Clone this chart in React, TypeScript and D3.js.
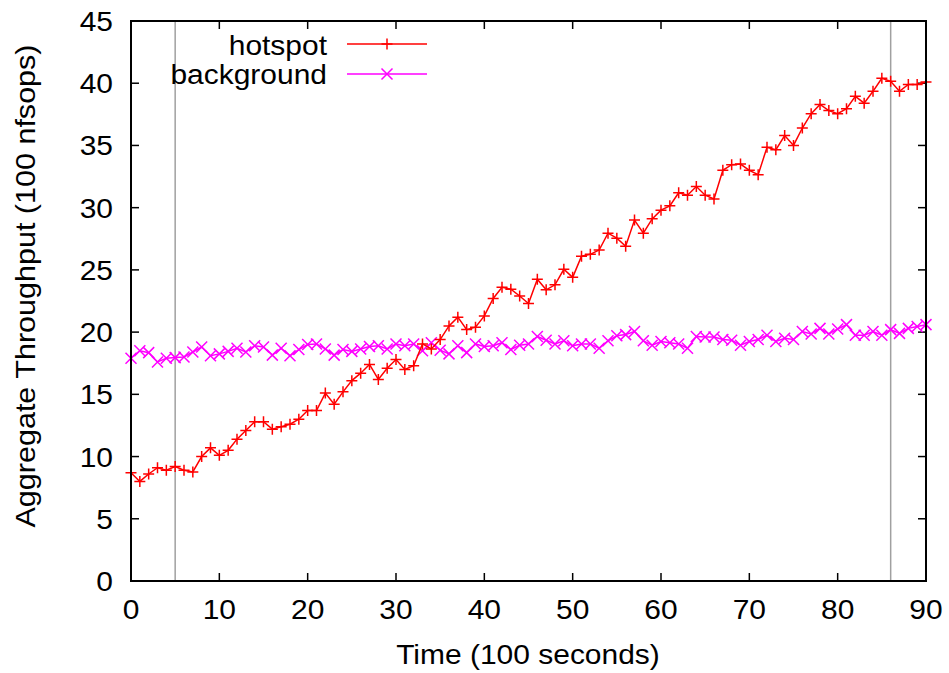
import React from "react";
import * as d3 from "d3";

const hotspot = [
  8.7, 8.0, 8.6, 9.1, 8.9, 9.2, 8.9, 8.76, 10.0, 10.7,
  10.1, 10.5, 11.4, 12.1, 12.8, 12.8, 12.2, 12.4, 12.6, 13.0,
  13.7, 13.7, 15.1, 14.2, 15.2, 16.1, 16.7, 17.4, 16.2, 17.1,
  17.8, 17.0, 17.3, 19.05, 18.65, 19.4, 20.5, 21.2, 20.2, 20.4,
  21.3, 22.7, 23.6, 23.45, 22.9, 22.3, 24.25, 23.4, 23.8, 25.05,
  24.4, 26.1, 26.25, 26.6, 27.95, 27.55, 26.9, 29.0, 27.95, 29.1,
  29.8, 30.15, 31.2, 31.0, 31.7, 31.0, 30.7, 33.0, 33.45, 33.5,
  33.0, 32.65, 34.85, 34.65, 35.8, 35.0, 36.4, 37.55, 38.3, 37.8,
  37.55, 37.95, 38.95, 38.4, 39.35, 40.4, 40.15, 39.35, 39.9, 39.9,
  40.1,
];

const background = [
  17.9, 18.5, 18.35, 17.6, 17.9, 17.95, 18.0, 18.4, 18.8, 18.1,
  18.25, 18.45, 18.7, 18.4, 18.9, 18.8, 18.15, 18.7, 18.1, 18.6,
  19.0, 19.05, 18.65, 18.15, 18.6, 18.45, 18.65, 18.85, 18.9, 18.65,
  19.05, 18.9, 19.05, 18.5, 19.15, 18.55, 18.25, 18.9, 18.35, 19.05,
  18.85, 18.9, 19.15, 18.6, 18.95, 19.05, 19.65, 19.35, 19.05, 19.3,
  18.9, 19.05, 19.05, 18.7, 19.3, 19.7, 19.8, 20.05, 19.3, 18.95,
  19.25, 19.15, 19.05, 18.7, 19.65, 19.6, 19.6, 19.4, 19.35, 18.95,
  19.25, 19.4, 19.75, 19.25, 19.5, 19.4, 20.05, 19.85, 20.3, 19.85,
  20.25, 20.6, 19.75, 19.75, 20.05, 19.75, 20.2, 19.9, 20.3, 20.45,
  20.6,
];

const xTicks = [0, 10, 20, 30, 40, 50, 60, 70, 80, 90];
const yTicks = [0, 5, 10, 15, 20, 25, 30, 35, 40, 45];
const markerLines = [5, 86];

const W = 949;
const H = 673;
const L = 131;
const R = 926;
const T = 21;
const B = 581;

export default function App() {
  const x = d3.scaleLinear().domain([0, 90]).range([L, R]);
  const y = d3.scaleLinear().domain([0, 45]).range([B, T]);
  const line = d3
    .line<number>()
    .x((_, i) => x(i))
    .y((d) => y(d));
  const font = "'Liberation Sans', Arial, sans-serif";
  const red = "#ff0000";
  const mag = "#ff00ff";
  const tl = 8;
  const fs = 27.5;
  const sx = 1.09;
  const txt = (tx: number, ty: number, s: string, anchor: string, k?: string) => (
    <text key={k} transform={`translate(${tx},${ty}) scale(${sx},1)`} fontSize={fs} textAnchor={anchor} fill="#000">
      {s}
    </text>
  );
  const plus = (cx: number, cy: number, k: string) => (
    <path key={k} d={`M${cx - 5.5},${cy}H${cx + 5.5}M${cx},${cy - 5.5}V${cy + 5.5}`} stroke={red} strokeWidth={1.5} />
  );
  const cross = (cx: number, cy: number, k: string) => (
    <path key={k} d={`M${cx - 5.5},${cy - 5.5}L${cx + 5.5},${cy + 5.5}M${cx - 5.5},${cy + 5.5}L${cx + 5.5},${cy - 5.5}`} stroke={mag} strokeWidth={1.5} />
  );
  return (
    <svg width={W} height={H} style={{ position: "absolute", left: 0, top: 0, background: "#fff" }} fontFamily={font}>
      <rect x={0} y={0} width={W} height={H} fill="#fff" />
      {markerLines.map((v) => (
        <line key={v} x1={x(v)} x2={x(v)} y1={T} y2={B} stroke="#a0a0a0" strokeWidth={1.5} />
      ))}
      {xTicks.map((t) => (
        <g key={"xt" + t}>
          <line x1={x(t)} x2={x(t)} y1={B} y2={B - tl} stroke="#000" strokeWidth={1.5} />
          <line x1={x(t)} x2={x(t)} y1={T} y2={T + tl} stroke="#000" strokeWidth={1.5} />
          {txt(x(t), 619, String(t), "middle")}
        </g>
      ))}
      {yTicks.map((t) => (
        <g key={"yt" + t}>
          <line x1={L} x2={L + tl} y1={y(t)} y2={y(t)} stroke="#000" strokeWidth={1.5} />
          <line x1={R} x2={R - tl} y1={y(t)} y2={y(t)} stroke="#000" strokeWidth={1.5} />
          {txt(113, y(t) + 10, String(t), "end")}
        </g>
      ))}
      <path d={line(background) || ""} fill="none" stroke={mag} strokeWidth={1.5} />
      {background.map((v, i) => cross(x(i), y(v), "b" + i))}
      <path d={line(hotspot) || ""} fill="none" stroke={red} strokeWidth={1.5} />
      {hotspot.map((v, i) => plus(x(i), y(v), "h" + i))}
      <rect x={L} y={T} width={R - L} height={B - T} fill="none" stroke="#000" strokeWidth={2} />
      {txt(327, 55, "hotspot", "end")}
      <line x1={347} x2={427} y1={44} y2={44} stroke={red} strokeWidth={1.5} />
      {plus(387, 44, "lp")}
      {txt(327, 84, "background", "end")}
      <line x1={347} x2={427} y1={74} y2={74} stroke={mag} strokeWidth={1.5} />
      {cross(387, 74, "lc")}
      {txt(528, 664, "Time (100 seconds)", "middle")}
      <text transform={`translate(35,286) rotate(-90) scale(1.11,1)`} fontSize={fs} textAnchor="middle" fill="#000">
        Aggregate Throughput (100 nfsops)
      </text>
    </svg>
  );
}
